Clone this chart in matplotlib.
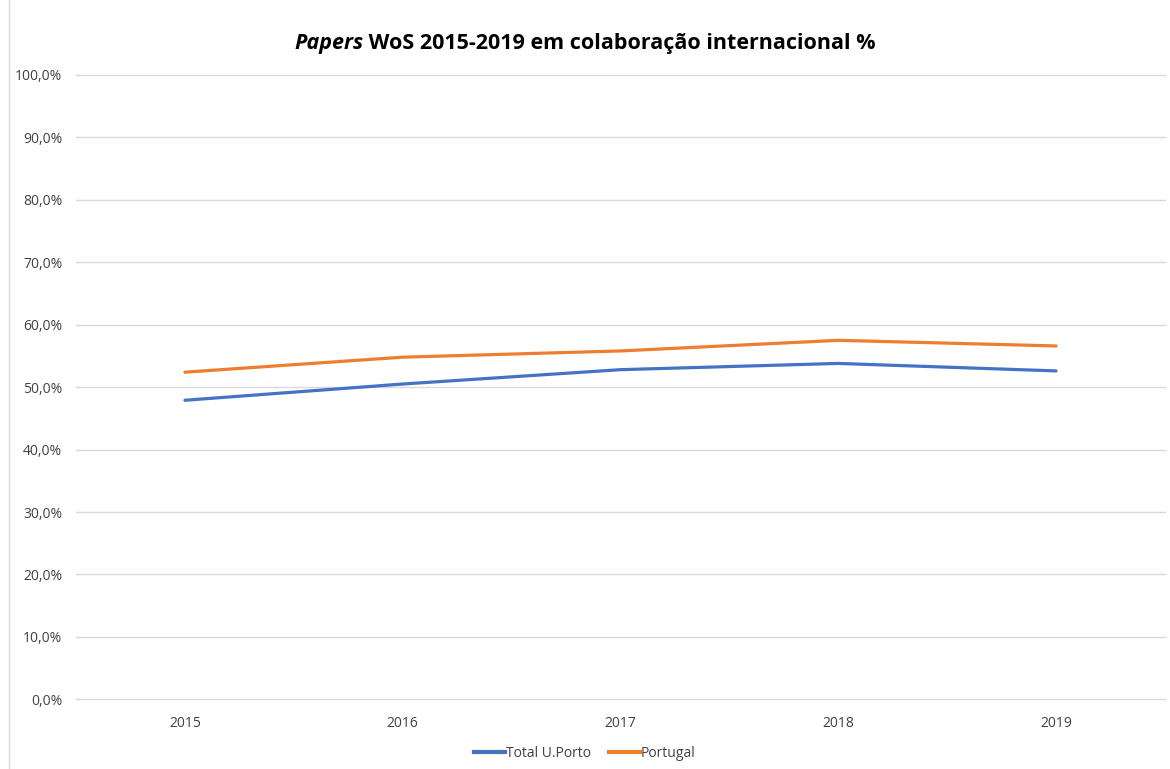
import numpy as np
import matplotlib
matplotlib.use('Agg')
import matplotlib.pyplot as plt
from matplotlib.ticker import FuncFormatter
from matplotlib.lines import Line2D

years = ['2015', '2016', '2017', '2018', '2019']
uporto = [47.9, 50.5, 52.8, 53.8, 52.6]
portugal = [52.4, 54.8, 55.8, 57.5, 56.6]

plt.rcParams['font.family'] = ['Open Sans', 'DejaVu Sans']

fig = plt.figure(figsize=(11.7, 7.69), dpi=100)
ax = fig.add_axes([0.065, 0.0906, 0.9307, 0.8119])

x = np.arange(len(years))
ax.plot(x, uporto, color='#4472C4', lw=2.3, label='Total U.Porto', solid_capstyle='round')
ax.plot(x, portugal, color='#ED7D31', lw=2.3, label='Portugal', solid_capstyle='round')

ax.set_xlim(-0.5, len(years) - 0.5)
ax.set_ylim(0, 100)
ax.set_yticks(np.arange(0, 101, 10))
ax.yaxis.set_major_formatter(FuncFormatter(lambda v, p: f'{v:.1f}%'.replace('.', ',')))
ax.set_xticks(x)
ax.set_xticklabels(years)
ax.tick_params(axis='both', length=0, labelsize=10, labelcolor='#404040')
ax.tick_params(axis='x', pad=12)
ax.tick_params(axis='y', pad=10)
ax.grid(axis='y', color='#D9D9D9', lw=1)
for gl in ax.get_ygridlines():
    gl.set_clip_on(False)
ax.set_axisbelow(True)
for s in ax.spines.values():
    s.set_visible(False)

# title: italic "Papers" + bold rest, centred together
fig.canvas.draw()
r = fig.canvas.get_renderer()
t1 = fig.text(0, 0.944, 'Papers', fontsize=15.5, fontweight='bold', style='italic', ha='left', va='center')
t2 = fig.text(0, 0.944, ' WoS 2015-2019 em colaboração internacional %', fontsize=15.5,
              fontweight='bold', ha='left', va='center')
w1 = t1.get_window_extent(r).width
w2 = t2.get_window_extent(r).width
x0 = (fig.bbox.width * 0.5 - (w1 + w2) / 2)
t1.set_x(x0 / fig.bbox.width)
t2.set_x((x0 + w1) / fig.bbox.width)

handles = [Line2D([], [], color='#4472C4', lw=3), Line2D([], [], color='#ED7D31', lw=3)]
fig.legend(handles, ['Total U.Porto', 'Portugal'], loc='center', bbox_to_anchor=(0.5, 0.02),
           ncol=2, frameon=False, fontsize=10, handlelength=2.2, handletextpad=0.1,
           columnspacing=1.3, labelcolor='#404040')

fig.add_artist(Line2D([0.0075, 0.0075], [0, 1], color='#D9D9D9', lw=1, transform=fig.transFigure))

plt.savefig('out.png', dpi=100)
